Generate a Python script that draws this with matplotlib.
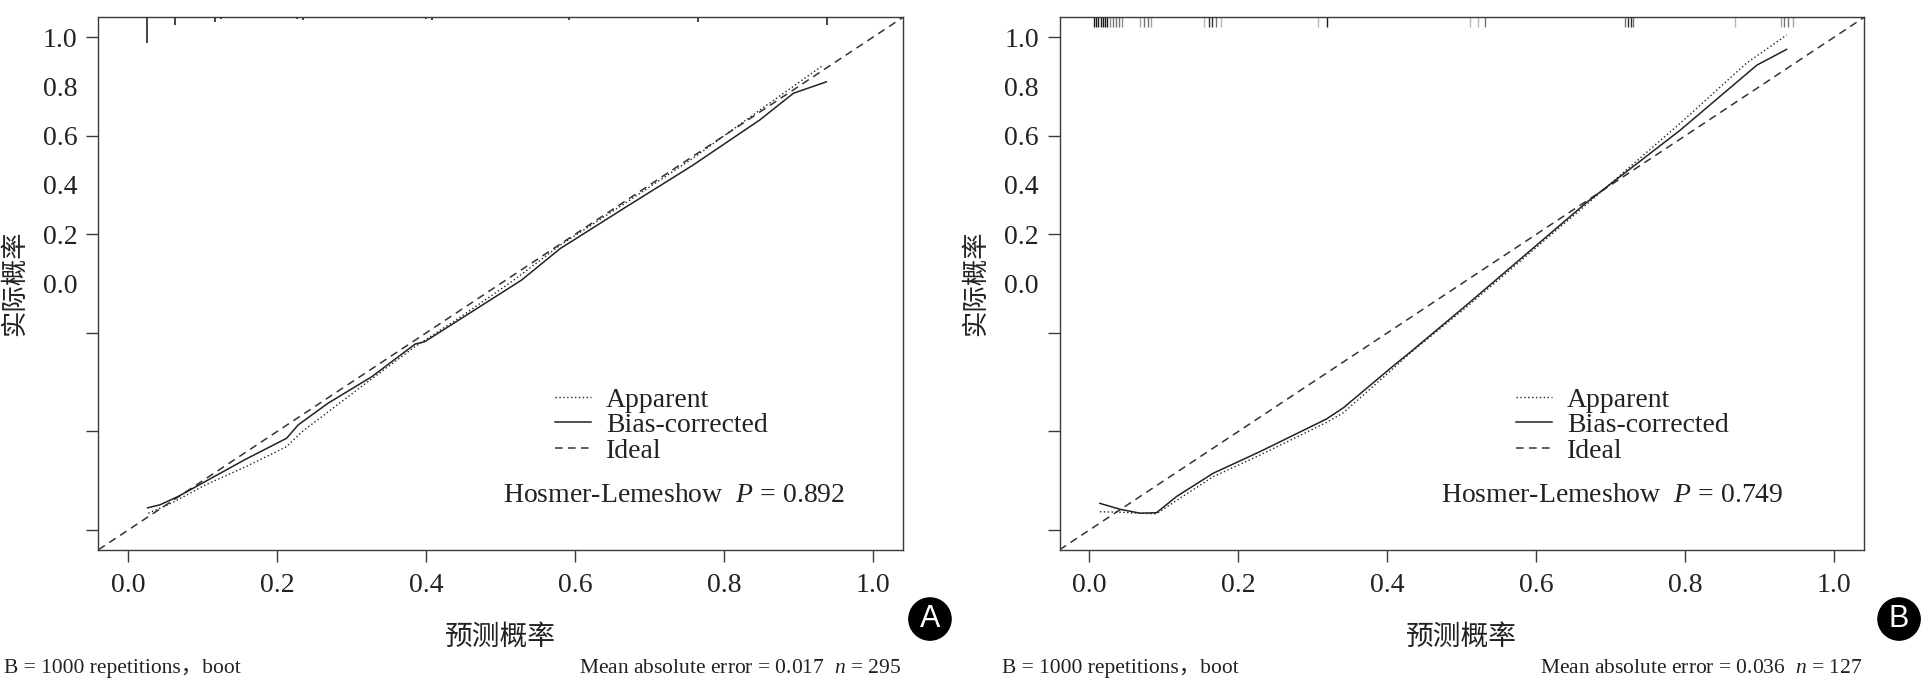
import matplotlib
matplotlib.use("Agg")
import matplotlib.pyplot as plt

plt.rcParams['font.family'] = ['Liberation Serif', 'Noto Sans CJK SC']
plt.rcParams['mathtext.fontset'] = 'custom'
plt.rcParams['mathtext.rm'] = 'Liberation Serif'
plt.rcParams['mathtext.it'] = 'Liberation Serif:italic'

# panel A: calibration curves (predicted vs observed)
app_a_x = [0.027, 0.06, 0.103, 0.16, 0.2125, 0.233, 0.313, 0.385, 0.447, 0.515, 0.58, 0.665, 0.758, 0.848, 0.933]
app_a_y = [0.034, 0.056, 0.091, 0.13, 0.169, 0.199, 0.291, 0.372, 0.433, 0.504, 0.578, 0.661, 0.754, 0.852, 0.943]
bc_a_x = [0.026, 0.0425, 0.067, 0.103, 0.157, 0.2125, 0.228, 0.268, 0.327, 0.385, 0.398,
          0.447, 0.528, 0.58, 0.669, 0.758, 0.848, 0.893, 0.937]
bc_a_y = [0.045, 0.051, 0.068, 0.098, 0.143, 0.186, 0.213, 0.257, 0.311, 0.377, 0.382,
          0.429, 0.507, 0.571, 0.656, 0.740, 0.832, 0.886, 0.909]
rug_a_x = [0.0255, 0.0627, 0.117, 0.125, 0.226, 0.235, 0.400, 0.408, 0.591, 0.765, 0.938]
rug_a_freq = [1.0, 0.31, 0.19, 0.08, 0.08, 0.12, 0.06, 0.12, 0.12, 0.19, 0.31]

# panel B
app_b_x = [0.014, 0.041, 0.068, 0.090, 0.117, 0.166, 0.229, 0.318, 0.341, 0.408, 0.430, 0.506, 0.667, 0.793, 0.882, 0.936]
app_b_y = [0.037, 0.036, 0.034, 0.033, 0.060, 0.108, 0.152, 0.218, 0.238, 0.328, 0.358, 0.452, 0.660, 0.825, 0.947, 1.004]
bc_b_x = [0.014, 0.041, 0.068, 0.090, 0.117, 0.166, 0.229, 0.318, 0.341, 0.408, 0.430, 0.506, 0.667, 0.793, 0.896, 0.936]
bc_b_y = [0.054, 0.042, 0.034, 0.035, 0.068, 0.115, 0.159, 0.225, 0.248, 0.333, 0.360, 0.456, 0.664, 0.811, 0.943, 0.975]
rug_b_x = [0.006, 0.009, 0.012, 0.015, 0.018, 0.021, 0.024, 0.028, 0.032, 0.036, 0.040, 0.044,
           0.068, 0.073, 0.078, 0.082, 0.154, 0.160, 0.165, 0.170, 0.177, 0.307, 0.319,
           0.511, 0.522, 0.531, 0.719, 0.723, 0.727, 0.730, 0.866, 0.928, 0.933, 0.938, 0.944]
rug_b_dens = [1, 1, 1, 1, 1, 1, 1, .5, .6, .6, .6, .5,
              .4, .6, .6, .4, .3, .9, .9, .6, .3, .3, 1,
              .3, .3, .6, .6, .9, .9, .6, .3, .4, .6, .6, .4]

x_ticks = [0.0, 0.2, 0.4, 0.6, 0.8, 1.0]
y_ticks = [0.0, 0.2, 0.4, 0.6, 0.8, 1.0]
# labels in the original figure sit at shifted positions
y_label_pos = [0.5, 0.6, 0.7, 0.8, 0.9, 1.0]
y_label_txt = ['0.0', '0.2', '0.4', '0.6', '0.8', '1.0']

hl_p = ['0.892', '0.749']
mae = ['0.017', '0.036']
n_obs = ['295', '127']
letters = ['A', 'B']

INK = '#222222'
FRAME = '#3a3a3a'


def draw_panel(ax, ax_x, ax_y, bx, by, rug_x, rug_w, rug_max, rug_as_len, p, hl_x):
    ax.set_xlim(-0.04, 1.04)
    ax.set_ylim(-0.04, 1.04)
    ideal = ax.axline((0, 0), (1, 1), color='#333333', lw=1.1, dashes=(5, 3.5))
    app, = ax.plot(ax_x, ax_y, color=INK, lw=1.0, ls=(0, (1, 1.8)))
    bc, = ax.plot(bx, by, color=INK, lw=1.1)

    # rug of predicted probabilities along the top
    tr = ax.get_xaxis_transform()
    if rug_as_len:
        ax.vlines(rug_x, [1 - rug_max * w for w in rug_w], 1, transform=tr, color=INK, lw=1.2)
    else:
        cols = [(0.1, 0.1, 0.1, w) for w in rug_w]
        ax.vlines(rug_x, 1 - rug_max, 1, transform=tr, colors=cols, lw=1.0)

    for s in ax.spines.values():
        s.set_color(FRAME)
        s.set_linewidth(1.0)

    ax.set_xticks(x_ticks)
    ax.set_xticklabels([f"{t:.1f}" for t in x_ticks])
    ax.set_yticks(y_ticks)
    ax.set_yticklabels([''] * len(y_ticks))
    ax.yaxis.remove_overlapping_locs = False
    ax.set_yticks(y_label_pos, minor=True)
    ax.set_yticklabels(y_label_txt, minor=True)
    ax.tick_params(axis='both', which='major', direction='out', length=8.6, width=1.0,
                   color=FRAME, labelsize=20, labelcolor=INK)
    ax.tick_params(axis='x', which='major', pad=8)
    ax.tick_params(axis='y', which='minor', length=0, pad=15, labelsize=20, labelcolor=INK)
    ax.tick_params(axis='x', which='minor', bottom=False)

    ax.set_xlabel('预测概率', fontsize=20, family=['Noto Sans CJK SC'], color=INK)
    ax.xaxis.label.set_va('center')
    ax.xaxis.set_label_coords(0.5, -0.163)
    ax.set_ylabel('实际概率', fontsize=19, family=['Noto Sans CJK SC'], color=INK)
    ax.yaxis.label.set_va('center')
    ax.yaxis.set_label_coords(-0.104, 0.5)

    ax.legend([app, bc, ideal], ['Apparent', 'Bias-corrected', 'Ideal'], loc='upper left',
              bbox_to_anchor=(0.567, 0.305), frameon=False, fontsize=20,
              handlelength=1.3, handletextpad=0.55, labelspacing=0.0,
              borderpad=0, borderaxespad=0, labelcolor=INK)
    ax.text(hl_x, 0.09, f'Hosmer-Lemeshow  $\\it{{P}}$ = {p}', transform=ax.transAxes,
            fontsize=20, color=INK, va='baseline', ha='left')


fig = plt.figure(figsize=(19.27, 6.81), dpi=100)
axA = fig.add_axes([0.0511, 0.1928, 0.4175, 0.7818])
axB = fig.add_axes([0.5499, 0.1928, 0.4175, 0.7818])

draw_panel(axA, app_a_x, app_a_y, bc_a_x, bc_a_y, rug_a_x, rug_a_freq, 0.049, True, hl_p[0], 0.503)
draw_panel(axB, app_b_x, app_b_y, bc_b_x, bc_b_y, rug_b_x, rug_b_dens, 0.019, False, hl_p[1], 0.474)

# footers and panel letters
for i, (lx, rx, cx) in enumerate([(0.002, 0.4676, 0.4826), (0.52, 0.9663, 0.9855)]):
    fig.text(lx, 0.012, 'B = 1000 repetitions，boot', fontsize=15.5, color=INK, ha='left', va='baseline')
    fig.text(rx, 0.012, f'Mean absolute error = {mae[i]}  $\\it{{n}}$ = {n_obs[i]}',
             fontsize=15.5, color=INK, ha='right', va='baseline')
    fig.text(cx, 0.091, letters[i], fontsize=22, color='white', ha='center', va='center',
             family='Liberation Sans',
             bbox=dict(boxstyle='circle,pad=0.2', fc='black', ec='black'))

fig.savefig('out.png', dpi=100, facecolor='white')
